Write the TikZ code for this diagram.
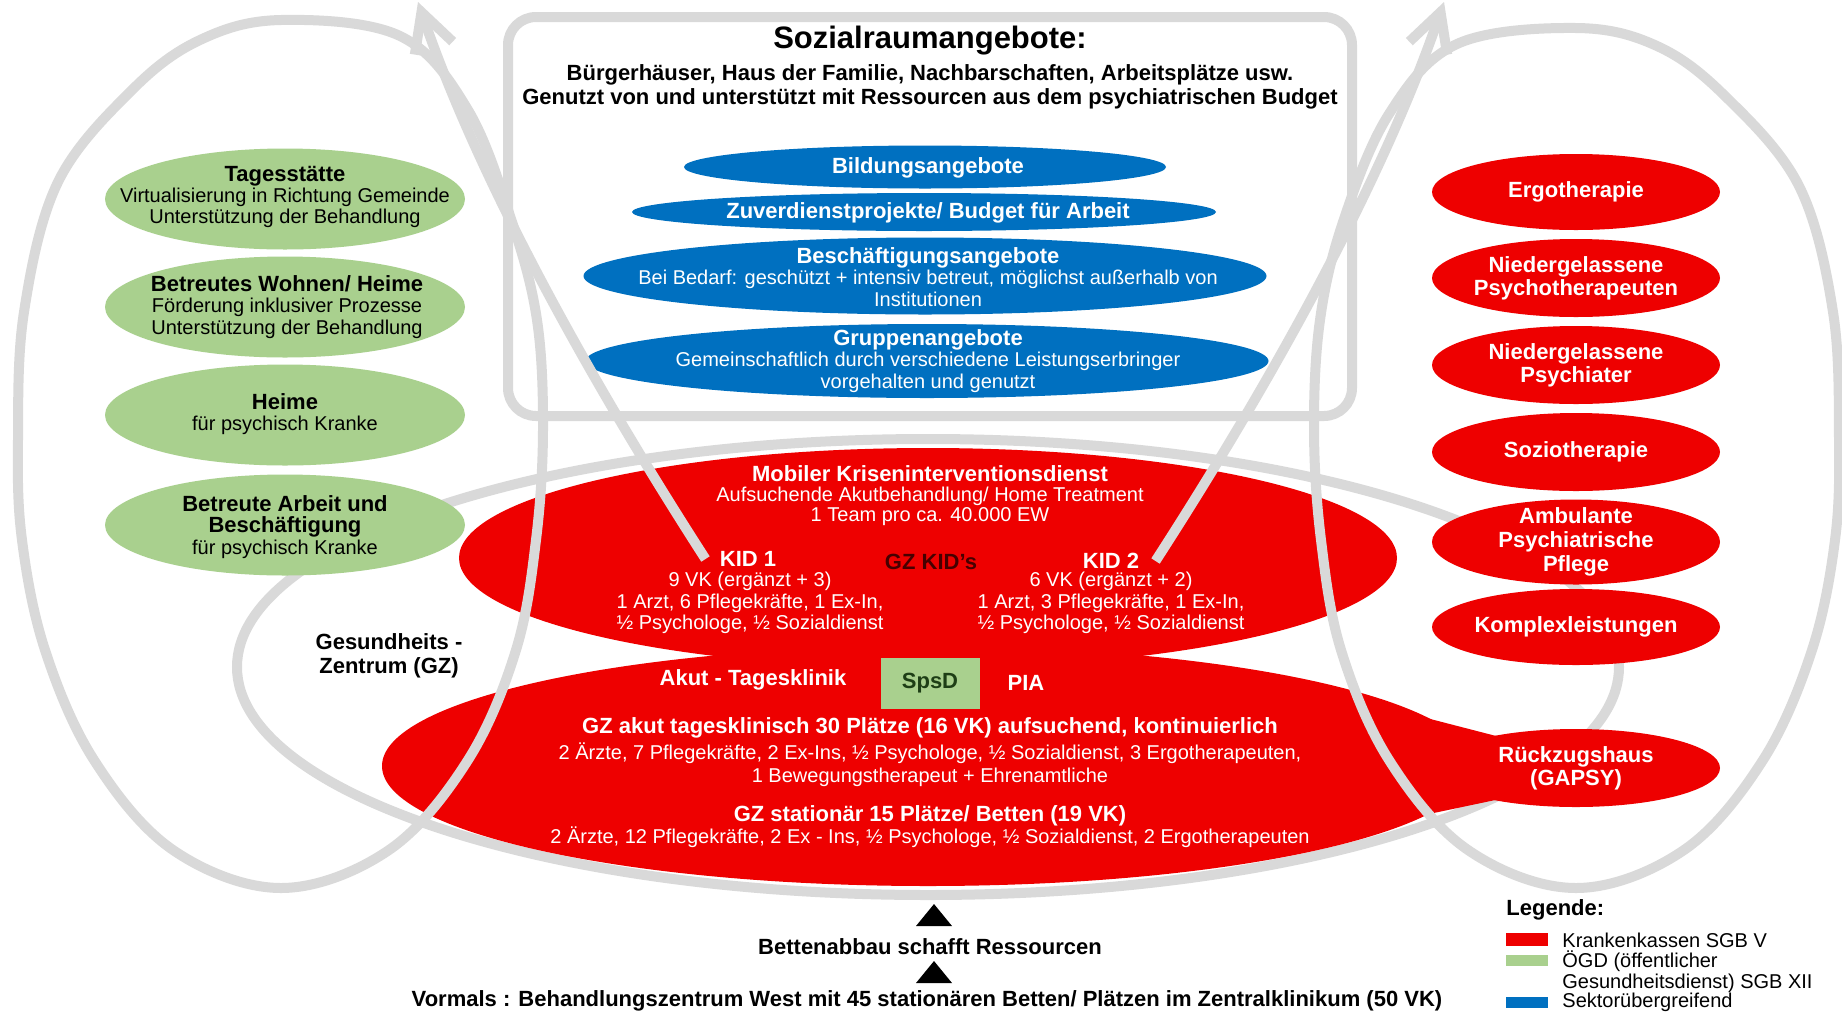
\documentclass[tikz,border=0pt]{standalone}
\usepackage{fontspec}
\setmainfont{Liberation Sans}
\usetikzlibrary{shapes.geometric, arrows.meta}
\definecolor{loopgray}{RGB}{217,217,217}
\definecolor{ogdgreen}{RGB}{169,208,142}
\definecolor{sekblue}{RGB}{0,112,192}
\definecolor{kkred}{RGB}{238,0,0}
\definecolor{kiddark}{RGB}{70,0,0}
\definecolor{spsdtext}{RGB}{30,62,22}
\newcommand{\fsR}{\fontsize{10}{10.6}\selectfont}
\newcommand{\hbf}[1]{{\fontsize{11}{11}\selectfont\bfseries #1}}

\begin{document}
\begin{tikzpicture}[x=0.5pt, y=-0.5pt,
  loopline/.style={draw=loopgray, line width=5pt},
  grn/.style={ellipse, fill=ogdgreen, inner sep=0pt, minimum width=180pt, minimum height=50.5pt},
  blu/.style={ellipse, fill=sekblue, inner sep=0pt},
  rd/.style={ellipse, fill=kkred, inner sep=0pt},
  wtxt/.style={text=white, align=center, inner sep=0pt, font=\fsR},
  ktxt/.style={text=black, align=center, inner sep=0pt, font=\fsR},
  hbw/.style={text=white, align=center, inner sep=0pt, font=\fontsize{11}{11.5}\selectfont\bfseries},
  hbk/.style={text=black, align=center, inner sep=0pt, font=\fontsize{11}{12}\selectfont\bfseries},
  swatch/.style={inner sep=0pt, minimum width=21pt, minimum height=5.5pt}]

  \useasboundingbox (0,0) rectangle (1842,1013);
  \fill[white] (0,0) rectangle (1842,1013);

  % GZ loop
  \draw[loopline] (928,667) ellipse [x radius=345.5pt, y radius=114pt];

  % Sozialraumangebote
  \node[draw=loopgray, line width=5pt, rounded corners=14pt, minimum width=422pt, minimum height=199.5pt] (sozbox) at (930,216.5) {};
  \node[hbk, font=\fontsize{15.5}{16}\selectfont\bfseries] (soztitle) at (930,41) {Sozialraumangebote:};
  \node[hbk] (sozsub) at (930,87) {Bürgerhäuser, Haus der Familie, Nachbarschaften, Arbeitsplätze usw.\\Genutzt von und unterstützt mit Ressourcen aus dem psychiatrischen Budget};

  \node[blu, minimum width=241pt, minimum height=21.5pt] (bBildung) at (925,167) {};
  \node[blu, minimum width=292pt, minimum height=19pt] (bZuver) at (924,212) {};
  \node[blu, minimum width=341.5pt, minimum height=38.5pt] (bBesch) at (925,276) {};
  \node[blu, minimum width=341.5pt, minimum height=37pt] (bGruppe) at (927,361) {};
  \node[hbw] (tBildung) at (928,168) {Bildungsangebote};
  \node[hbw] (tZuver) at (928,213) {Zuverdienstprojekte/ Budget für Arbeit};
  \node[wtxt] (tBesch) at (928,277) {\hbf{Beschäftigungsangebote}\\Bei Bedarf: geschützt + intensiv betreut, möglichst außerhalb von\\Institutionen};
  \node[wtxt] (tGruppe) at (928,361) {\hbf{Gruppenangebote}\\Gemeinschaftlich durch verschiedene Leistungserbringer\\vorgehalten und genutzt};

  % left column
  \node[grn] (gTages) at (285,199) {};
  \node[grn] (gWohnen) at (285,307) {};
  \node[grn] (gHeime) at (285,415) {};
  \node[grn] (gArbeit) at (285,525) {};
  \node[ktxt] (tTages) at (285,197) {\hbf{Tagesstätte}\\Virtualisierung in Richtung Gemeinde\\Unterstützung der Behandlung};
  \node[ktxt] (tWohnen) at (287,307) {\hbf{Betreutes Wohnen/ Heime}\\Förderung inklusiver Prozesse\\Unterstützung der Behandlung};
  \node[ktxt] (tHeime) at (285,414) {\hbf{Heime}\\für psychisch Kranke};
  \node[ktxt] (tArbeit) at (285,527) {\hbf{Betreute Arbeit und}\\\hbf{Beschäftigung}\\für psychisch Kranke};

  % Gesundheitszentrum
  \node[rd, minimum width=469pt, minimum height=110pt] (kidEll) at (928,558) {};
  \node[rd, minimum width=546pt, minimum height=120pt] (gzEll) at (928,766) {};
  \fill[kkred] (1380,706) -- (1500,737) -- (1500,799) -- (1410,818) -- cycle;
  \node[fill=ogdgreen, inner sep=0pt, minimum width=49.5pt, minimum height=25.5pt, text=spsdtext, font=\fontsize{11}{11}\selectfont\bfseries] (spsd) at (930,683) {SpsD};

  \node[wtxt, font=\fontsize{10}{10}\selectfont] (tMobil) at (930,496) {\hbf{Mobiler Kriseninterventionsdienst}\\Aufsuchende Akutbehandlung/ Home Treatment\\1 Team pro ca. 40.000 EW};
  \node[hbw] (kidone) at (748,559) {KID 1};
  \node[hbw, text=kiddark] (gzkids) at (931,562) {GZ KID's};
  \node[hbw] (kidtwo) at (1111,561) {KID 2};
  \node[wtxt] (tKidone) at (750,603) {9 VK (ergänzt + 3)\\1 Arzt, 6 Pflegekräfte, 1 Ex-In,\\½ Psychologe, ½ Sozialdienst};
  \node[wtxt] (tKidtwo) at (1111,603) {6 VK (ergänzt + 2)\\1 Arzt, 3 Pflegekräfte, 1 Ex-In,\\½ Psychologe, ½ Sozialdienst};
  \node[hbw] (akut) at (753,680) {Akut - Tagesklinik};
  \node[hbw] (pia) at (1026,683) {PIA};
  \node[hbw] (gzakut) at (930,728) {GZ akut tagesklinisch 30 Plätze (16 VK) aufsuchend, kontinuierlich};
  \node[wtxt, font=\fontsize{10}{11.5}\selectfont] (tGzakut) at (930,765) {2 Ärzte, 7 Pflegekräfte, 2 Ex-Ins, ½ Psychologe, ½ Sozialdienst, 3 Ergotherapeuten,\\1 Bewegungstherapeut + Ehrenamtliche};
  \node[hbw] (gzstat) at (930,816) {GZ stationär 15 Plätze/ Betten (19 VK)};
  \node[wtxt] (tGzstat) at (930,837) {2 Ärzte, 12 Pflegekräfte, 2 Ex - Ins, ½ Psychologe, ½ Sozialdienst, 2 Ergotherapeuten};
  \node[hbk] (gzlabel) at (389,656) {Gesundheits -\\Zentrum (GZ)};

  % right column
  \node[rd, minimum width=144pt, minimum height=38pt] (rErgo) at (1576,192) {};
  \node[rd, minimum width=144pt, minimum height=39pt] (rPsyth) at (1576,278) {};
  \node[rd, minimum width=144pt, minimum height=39pt] (rPsyc) at (1576,365) {};
  \node[rd, minimum width=144pt, minimum height=39pt] (rSozio) at (1576,452) {};
  \node[rd, minimum width=144pt, minimum height=42.5pt] (rAmbu) at (1576,542) {};
  \node[rd, minimum width=144pt, minimum height=38pt] (rKomp) at (1576,627) {};
  \node[rd, minimum width=144pt, minimum height=39pt] (rGapsy) at (1576,768) {};
  \node[hbw] (tErgo) at (rErgo) {Ergotherapie};
  \node[hbw] (tPsyth) at (rPsyth) {Niedergelassene\\Psychotherapeuten};
  \node[hbw] (tPsyc) at (rPsyc) {Niedergelassene\\Psychiater};
  \node[hbw] (tSozio) at (rSozio) {Soziotherapie};
  \node[hbw, font=\fontsize{11}{12}\selectfont\bfseries] (tAmbu) at (rAmbu) {Ambulante\\Psychiatrische\\Pflege};
  \node[hbw] (tKomp) at (rKomp) {Komplexleistungen};
  \node[hbw] (tGapsy) at (rGapsy) {Rückzugshaus\\(GAPSY)};

  % loops and arrows
  \draw[loopline] plot[smooth cycle, tension=0.6] coordinates {(281,20) (400,36) (468,110) (512,222) (537,320) (543,430) (536,540) (516,650) (468,760) (389,850) (281,888) (173,850) (94,760) (45,650) (22,540) (18,440) (24,312) (58,182) (132,90) (200,40)};
  \draw[loopline] plot[smooth cycle, tension=0.6] coordinates {(1576,28) (1457,44) (1389,114) (1343,222) (1320,320) (1314,430) (1321,540) (1341,650) (1389,760) (1468,850) (1576,888) (1684,850) (1763,760) (1812,650) (1835,540) (1839,440) (1833,312) (1799,186) (1725,96) (1657,46)};
  \coordinate (tipL) at (418,2);
  \coordinate (tipR) at (1444,2);
  \draw[loopline, -{Straight Barb[length=19pt, width=20pt]}] ([xshift=-7pt]kidone.west) .. controls (567,344) and (471,157) .. (tipL);
  \draw[loopline, -{Straight Barb[length=19pt, width=20pt]}] ([xshift=8pt]kidtwo.east) .. controls (1295,345) and (1391,157) .. (tipR);

  % bottom
  \fill[black] (916,926) -- (952,926) -- (934,904) -- cycle;
  \node[hbk] (abbau) at (930,947) {Bettenabbau schafft Ressourcen};
  \fill[black] (916,983) -- (952,983) -- (934,961) -- cycle;
  \node[hbk] (vormals) at (927,1001) {Vormals : Behandlungszentrum West mit 45 stationären Betten/ Plätzen im Zentralklinikum (50 VK)};

  % legend
  \node[hbk, anchor=west] (legtitle) at (1506,910) {Legende:};
  \node[swatch, fill=kkred, minimum height=6.5pt] (swRed) at (1527,939.5) {};
  \node[swatch, fill=ogdgreen] (swGreen) at (1527,960.5) {};
  \node[swatch, fill=sekblue] (swBlue) at (1527,1002.5) {};
  \node[ktxt, anchor=west] (lgRed) at (1562,940) {Krankenkassen SGB V};
  \node[ktxt, anchor=north west, align=left] (lgGreen) at (1562,950) {ÖGD (öffentlicher\\Gesundheitsdienst) SGB XII};
  \node[ktxt, anchor=west] (lgBlue) at (1562,1002) {Sektorübergreifend};
\end{tikzpicture}
\end{document}
